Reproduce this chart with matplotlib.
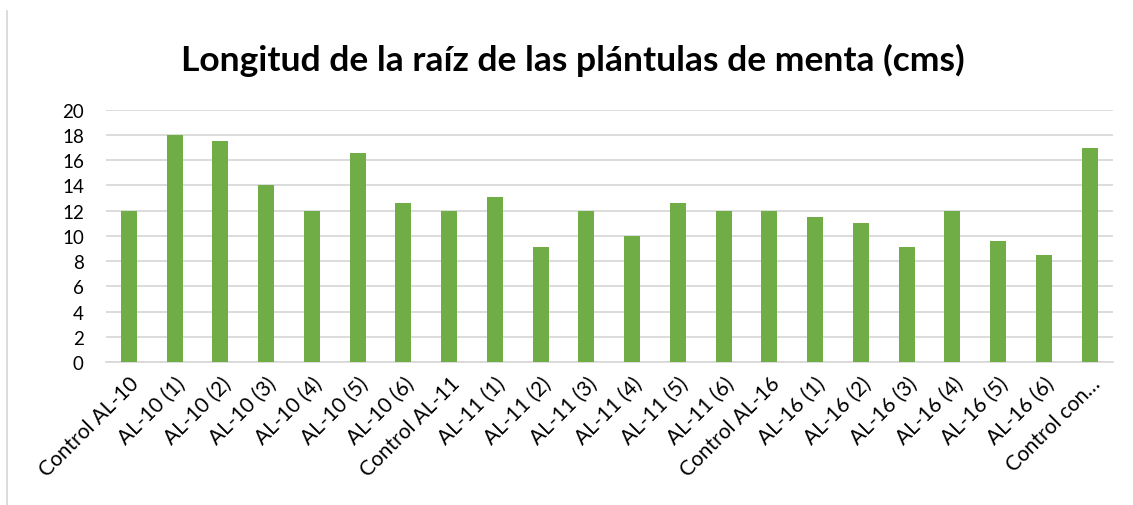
import matplotlib.pyplot as plt
from matplotlib.lines import Line2D

plt.rcParams['font.family'] = ['Lato', 'DejaVu Sans']

labels = ['Control AL-10', 'AL-10 (1)', 'AL-10 (2)', 'AL-10 (3)', 'AL-10 (4)',
          'AL-10 (5)', 'AL-10 (6)', 'Control AL-11', 'AL-11 (1)', 'AL-11 (2)',
          'AL-11 (3)', 'AL-11 (4)', 'AL-11 (5)', 'AL-11 (6)', 'Control AL-16',
          'AL-16 (1)', 'AL-16 (2)', 'AL-16 (3)', 'AL-16 (4)', 'AL-16 (5)',
          'AL-16 (6)', 'Control con…']
longitud = [12, 18, 17.5, 14, 12, 16.6, 12.6, 12, 13.1, 9.1,
            12, 10, 12.6, 12, 12, 11.5, 11, 9.1, 12, 9.6, 8.5, 17]
yticks = list(range(0, 21, 2))

fig = plt.figure(figsize=(11.33, 5.06), dpi=100)
ax = fig.add_axes([0.0936, 0.2826, 0.8884, 0.4986])

x = range(len(labels))
ax.bar(x, longitud, width=0.35, color='#70ad47', zorder=3)

ax.set_xlim(-0.5, len(labels) - 0.5)
ax.set_ylim(0, 20)
ax.set_yticks(yticks)
ax.set_xticks(list(x))
ax.set_xticklabels(labels, rotation=45, ha='right', rotation_mode='anchor')
ax.tick_params(axis='both', length=0, colors='#000000')
ax.tick_params(axis='x', pad=8, labelsize=15)
ax.tick_params(axis='y', pad=16, labelsize=13.5)
ax.grid(axis='y', color='#d9d9d9', linewidth=1.3, zorder=0)
for s in ['top', 'right', 'left']:
    ax.spines[s].set_visible(False)
ax.spines['bottom'].set_color('#d9d9d9')
ax.spines['bottom'].set_linewidth(1.3)

fig.text(0.506, 0.88, 'Longitud de la raíz de las plántulas de menta (cms)',
         ha='center', va='center', fontsize=25.5, fontweight='bold')

# borde del área del gráfico
fig.add_artist(Line2D([7 / 1133, 7 / 1133], [0, 1 - 12 / 506],
                      transform=fig.transFigure, color='#d9d9d9', linewidth=1.3))

fig.savefig('out.png', dpi=100)
